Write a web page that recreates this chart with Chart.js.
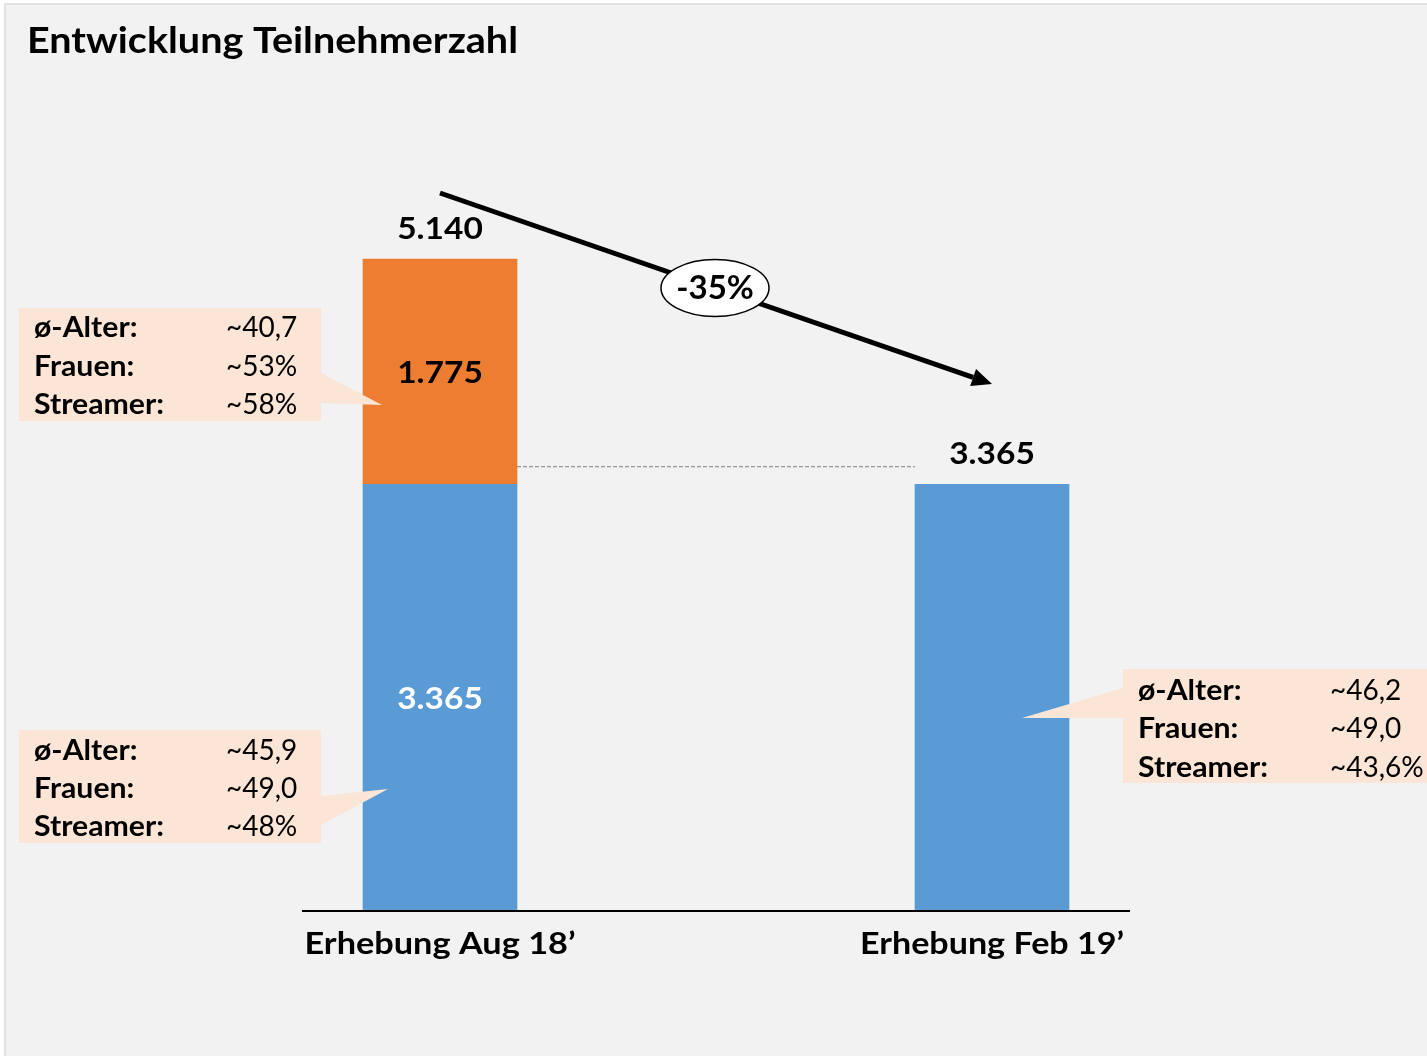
<!DOCTYPE html>
<html>
<head>
<meta charset="utf-8">
<script src="https://cdn.jsdelivr.net/npm/chart.js@4.4.1/dist/chart.umd.min.js"></script>
<style>
  html, body { margin: 0; padding: 0; background: #ffffff; }
  #wrap { width: 1427px; height: 1056px; position: relative; }
</style>
</head>
<body>
<div id="wrap"><canvas id="c" width="1427" height="1056"></canvas></div>
<script>
const chartTitle = 'Entwicklung Teilnehmerzahl';
const categories = ['Erhebung Aug 18\u2019', 'Erhebung Feb 19\u2019'];
const stayedValues = [3365, 3365];
const lostValues = [1775, null];
const statLabels = ['\u00f8-Alter:', 'Frauen:', 'Streamer:'];
const statsAugLost = ['~40,7', '~53%', '~58%'];
const statsAugStayed = ['~45,9', '~49,0', '~48%'];
const statsFeb = ['~46,2', '~49,0', '~43,6%'];

const BLUE = '#5b9bd5', ORANGE = '#ed7d31', PEACH = '#fbe5d6', BG = '#f2f2f2';
const FONT = 'Lato, "Open Sans", sans-serif';

function fmt(n) {
  return String(Math.round(n)).replace(/\B(?=(\d{3})+(?!\d))/g, '.');
}

// draws text centred vertically on yCenter (cap-height centre); sx stretches horizontally
function text(ctx, s, x, yCenter, size, weight, color, align, sx) {
  ctx.save();
  ctx.font = weight + ' ' + size + 'px ' + FONT;
  ctx.fillStyle = color;
  ctx.textAlign = align || 'left';
  ctx.textBaseline = 'alphabetic';
  const base = yCenter + size * 0.358;
  ctx.translate(x, base);
  ctx.scale(sx || 1, 1);
  ctx.fillText(s, 0, 0);
  ctx.restore();
}
function textW(ctx, s, x, yCenter, size, weight, color, align, targetW) {
  ctx.save();
  ctx.font = weight + ' ' + size + 'px ' + FONT;
  const w = ctx.measureText(s).width;
  ctx.restore();
  text(ctx, s, x, yCenter, size, weight, color, align, targetW / w);
}

function callout(ctx, box, ptr, labelX, valueX, lineYs, values) {
  ctx.save();
  ctx.fillStyle = PEACH;
  ctx.fillRect(box[0], box[1], box[2] - box[0], box[3] - box[1]);
  ctx.beginPath();
  ctx.moveTo(ptr[0][0], ptr[0][1]);
  ctx.lineTo(ptr[1][0], ptr[1][1]);
  ctx.lineTo(ptr[2][0], ptr[2][1]);
  ctx.closePath();
  ctx.fill();
  ctx.restore();
  for (let i = 0; i < statLabels.length; i++) {
    text(ctx, statLabels[i], labelX, lineYs[i], 28, 'bold', '#000', 'left', 1.08);
    text(ctx, values[i], valueX, lineYs[i], 28, 'normal', '#000', 'left', 1.0);
  }
}

const decor = {
  id: 'decor',
  beforeDraw(chart) {
    const ctx = chart.ctx;
    ctx.save();
    ctx.fillStyle = '#ffffff';
    ctx.fillRect(0, 0, chart.width, chart.height);
    ctx.fillStyle = BG;
    ctx.fillRect(6, 5, chart.width - 6, chart.height - 5);
    ctx.strokeStyle = '#e2e2e2';
    ctx.lineWidth = 2;
    ctx.beginPath();
    ctx.moveTo(5, chart.height);
    ctx.lineTo(5, 4);
    ctx.lineTo(chart.width, 4);
    ctx.stroke();
    ctx.restore();
  },
  afterDatasetsDraw(chart) {
    const ctx = chart.ctx;
    const xs = chart.scales.x, ys = chart.scales.y;
    const area = chart.chartArea;
    const c0 = xs.getPixelForValue(0), c1 = xs.getPixelForValue(1);
    const half = 77;

    // baseline
    ctx.save();
    ctx.strokeStyle = '#000';
    ctx.lineWidth = 2;
    ctx.beginPath();
    ctx.moveTo(c0 - 138, area.bottom);
    ctx.lineTo(c1 + 138, area.bottom);
    ctx.stroke();
    ctx.restore();

    // dashed reference line
    const yStay = ys.getPixelForValue(stayedValues[1]);
    ctx.save();
    ctx.strokeStyle = '#808080';
    ctx.lineWidth = 1;
    ctx.setLineDash([4, 2]);
    ctx.beginPath();
    ctx.moveTo(c0 + half, yStay - 17.5);
    ctx.lineTo(c1 - half, yStay - 17.5);
    ctx.stroke();
    ctx.restore();

    // totals above bars
    const totals = categories.map((_, i) => (stayedValues[i] || 0) + (lostValues[i] || 0));
    totals.forEach((t, i) => {
      const cx = xs.getPixelForValue(i);
      const top = ys.getPixelForValue(t);
      text(ctx, fmt(t), cx, top - 31, 31, 'bold', '#000', 'center', 1.08);
    });

    // labels inside segments
    const yLostTop = ys.getPixelForValue(stayedValues[0] + lostValues[0]);
    const yLostBot = ys.getPixelForValue(stayedValues[0]);
    text(ctx, fmt(lostValues[0]), c0, (yLostTop + yLostBot) / 2, 31, 'bold', '#000', 'center', 1.08);
    text(ctx, fmt(stayedValues[0]), c0, (yLostBot + area.bottom) / 2, 31, 'bold', '#ffffff', 'center', 1.08);

    // x labels
    const xLabelWidths = [271, 264];
    categories.forEach((lab, i) => {
      textW(ctx, lab, xs.getPixelForValue(i), 943, 30, 'bold', '#000', 'center', xLabelWidths[i]);
    });

    // arrow
    const ax0 = c0, ay0 = 193, ax1 = c1, ay1 = 384;
    const ang = Math.atan2(ay1 - ay0, ax1 - ax0);
    const headLen = 20, headW = 9;
    const bx = ax1 - headLen * Math.cos(ang), by = ay1 - headLen * Math.sin(ang);
    ctx.save();
    ctx.strokeStyle = '#000';
    ctx.lineWidth = 5;
    ctx.beginPath();
    ctx.moveTo(ax0, ay0);
    ctx.lineTo(bx, by);
    ctx.stroke();
    ctx.fillStyle = '#000';
    ctx.beginPath();
    ctx.moveTo(ax1, ay1);
    ctx.lineTo(bx + headW * Math.sin(ang), by - headW * Math.cos(ang));
    ctx.lineTo(bx - headW * Math.sin(ang), by + headW * Math.cos(ang));
    ctx.closePath();
    ctx.fill();
    // ellipse
    ctx.fillStyle = '#ffffff';
    ctx.lineWidth = 1.5;
    ctx.beginPath();
    ctx.ellipse(715, 288, 54, 28.5, 0, 0, Math.PI * 2);
    ctx.fill();
    ctx.stroke();
    ctx.restore();
    const change = Math.round((totals[1] - totals[0]) / totals[0] * 100);
    text(ctx, (change > 0 ? '+' : '') + change + '%', 715, 287, 33, 'bold', '#000', 'center', 1.0);

    // callouts
    callout(ctx, [19, 308, 321, 421], [[321, 373], [382, 405], [321, 403]], 34, 226, [327, 366, 404], statsAugLost);
    callout(ctx, [19, 730, 321, 843], [[321, 796], [388, 789], [321, 825]], 34, 226, [750, 788, 826], statsAugStayed);
    callout(ctx, [1123, 669, 1427, 783], [[1123, 688], [1022, 718], [1123, 718]], 1138, 1330, [690, 728, 767], statsFeb);

    // title
    textW(ctx, chartTitle, 27, 40, 37, 'bold', '#000', 'left', 491);
  }
};

new Chart(document.getElementById('c'), {
  type: 'bar',
  data: {
    labels: categories,
    datasets: [
      { label: 'Verblieben', data: stayedValues, backgroundColor: BLUE, barThickness: 154, borderWidth: 0 },
      { label: 'Abgang', data: lostValues, backgroundColor: ORANGE, barThickness: 154, borderWidth: 0 }
    ]
  },
  options: {
    responsive: false,
    animation: false,
    layout: { padding: { left: 164, right: 159, top: 150, bottom: 145 } },
    plugins: { legend: { display: false }, tooltip: { enabled: false }, title: { display: false } },
    scales: {
      x: { stacked: true, display: false, offset: true, grid: { display: false } },
      y: { stacked: true, display: false, min: 0, max: 6000 }
    }
  },
  plugins: [decor]
});
</script>
</body>
</html>
